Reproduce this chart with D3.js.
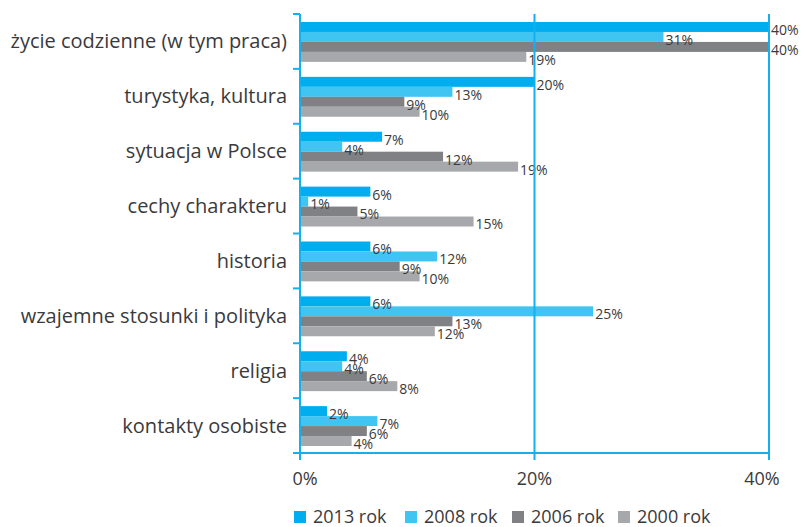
<!DOCTYPE html>
<meta charset="utf-8">
<style>
body { margin: 0; background: #fff; }
text { font-family: "Open Sans", sans-serif; fill: #3a3a3c; }
</style>
<svg width="804" height="527"></svg>
<script src="https://d3js.org/d3.v7.min.js"></script>
<script>

var categories = ["życie codzienne (w tym praca)", "turystyka, kultura", "sytuacja w Polsce",
  "cechy charakteru", "historia", "wzajemne stosunki i polityka", "religia", "kontakty osobiste"];
var years = ["2013 rok", "2008 rok", "2006 rok", "2000 rok"];

// values (labels are the rounded numbers)
var v2013 = [40, 20, 7, 6, 6, 6, 4, 2.3];
var v2008 = [31, 13, 3.6, 0.7, 11.7, 25, 3.6, 6.6];
var v2006 = [40, 8.9, 12.2, 4.9, 8.5, 13, 5.7, 5.7];
var v2000 = [19.3, 10.2, 18.6, 14.8, 10.2, 11.5, 8.3, 4.4];
var xTicks = [0, 20, 40];

var series = [v2013, v2008, v2006, v2000];
var colors = ["#00adef", "#40c5f3", "#808184", "#a7a8ab"];
var axisColor = "#12b0ee";

var svg = d3.select("svg");
var pLeft = 300, pRight = 769, pTop = 14, pBottom = 453;

var x = d3.scaleLinear().domain([0, 40]).range([pLeft, pRight]);
var y0 = d3.scaleBand().domain(categories).range([pTop, pBottom]);
var y1 = d3.scaleBand().domain(years).range([8, y0.bandwidth() - 7]);

// bars
var groups = svg.append("g").selectAll("g")
    .data(categories)
  .enter().append("g")
    .attr("transform", function(d) { return "translate(0," + y0(d) + ")"; });

groups.selectAll("rect")
    .data(function(d, i) { return years.map(function(k, j) { return {key: k, j: j, value: series[j][i]}; }); })
  .enter().append("rect")
    .attr("x", x(0))
    .attr("y", function(d) { return y1(d.key); })
    .attr("width", function(d) { return x(d.value) - x(0); })
    .attr("height", y1.bandwidth())
    .attr("fill", function(d) { return colors[d.j]; });

groups.selectAll("text.val")
    .data(function(d, i) { return years.map(function(k, j) { return {key: k, value: series[j][i]}; }); })
  .enter().append("text")
    .attr("class", "val")
    .attr("x", function(d) { return x(d.value) + 2; })
    .attr("y", function(d) { return y1(d.key) + y1.bandwidth() / 2 + 3; })
    .attr("dy", "0.35em")
    .attr("font-size", 14)
    .text(function(d) { return Math.round(d.value) + "%"; });

// grid lines at 20% and 40%
svg.append("g").selectAll("line")
    .data(xTicks.slice(1))
  .enter().append("line")
    .attr("x1", function(d) { return x(d); })
    .attr("x2", function(d) { return x(d); })
    .attr("y1", pTop)
    .attr("y2", pBottom)
    .attr("stroke", axisColor)
    .attr("stroke-width", 2);

// y axis with ticks at band boundaries
var yax = svg.append("g");
yax.append("line")
    .attr("x1", pLeft).attr("x2", pLeft)
    .attr("y1", pTop).attr("y2", pBottom + 7)
    .attr("stroke", axisColor).attr("stroke-width", 2);
yax.selectAll("line.tick")
    .data(categories.concat([null]))
  .enter().append("line")
    .attr("class", "tick")
    .attr("x1", pLeft - 7).attr("x2", pLeft)
    .attr("y1", function(d) { return d === null ? pBottom : y0(d); })
    .attr("y2", function(d) { return d === null ? pBottom : y0(d); })
    .attr("stroke", axisColor).attr("stroke-width", 2);
yax.selectAll("text")
    .data(categories)
  .enter().append("text")
    .attr("x", 287)
    .attr("y", function(d) { return y0(d) + y0.bandwidth() / 2; })
    .attr("dy", "0.35em")
    .attr("text-anchor", "end")
    .attr("font-size", 20)
    .text(function(d) { return d; });

// x axis
var xax = svg.append("g");
xax.append("line")
    .attr("x1", pLeft - 7).attr("x2", pRight + 1)
    .attr("y1", pBottom).attr("y2", pBottom)
    .attr("stroke", axisColor).attr("stroke-width", 2);
xax.selectAll("line.tick")
    .data(xTicks)
  .enter().append("line")
    .attr("class", "tick")
    .attr("x1", function(d) { return x(d); })
    .attr("x2", function(d) { return x(d); })
    .attr("y1", pBottom).attr("y2", pBottom + 7)
    .attr("stroke", axisColor).attr("stroke-width", 2);
xax.selectAll("text")
    .data(xTicks)
  .enter().append("text")
    .attr("x", function(d) { return x(d) + (d === 0 ? 5 : d === 40 ? -7 : 0); })
    .attr("y", 479)
    .attr("dy", "0.35em")
    .attr("text-anchor", "middle")
    .attr("font-size", 18)
    .text(function(d) { return d + "%"; });

// legend
var legendX = [294, 405, 512, 618];
var legend = svg.append("g").selectAll("g")
    .data(years)
  .enter().append("g")
    .attr("transform", function(d, i) { return "translate(" + legendX[i] + ",517)"; });
legend.append("rect")
    .attr("y", -6)
    .attr("width", 12)
    .attr("height", 12)
    .attr("fill", function(d, i) { return colors[i]; });
legend.append("text")
    .attr("x", 19)
    .attr("dy", "0.35em")
    .attr("font-size", 18)
    .text(function(d) { return d; });

</script>
